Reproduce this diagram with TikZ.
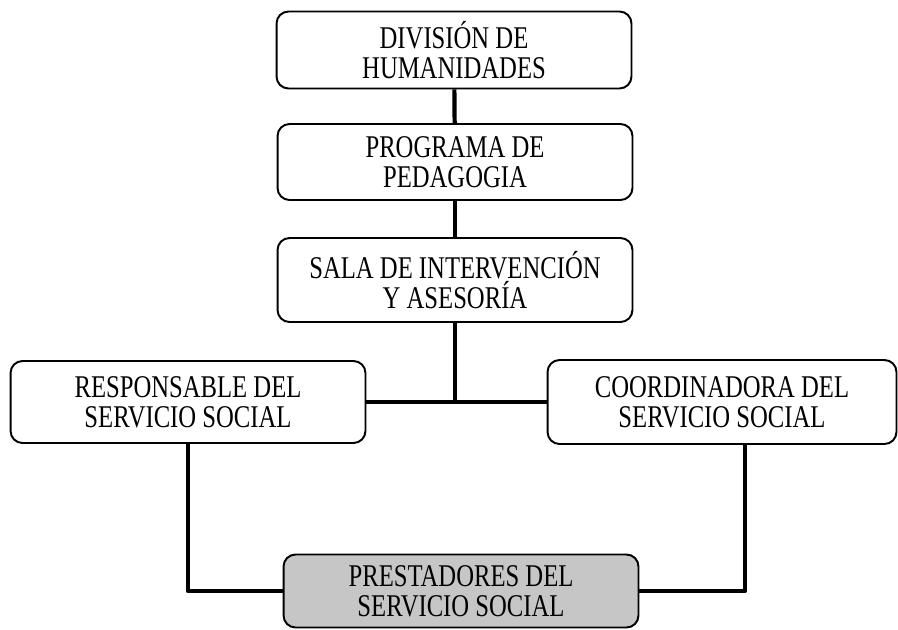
\documentclass[tikz,border=0pt]{standalone}
\usepackage{fontspec}
\setmainfont[FakeStretch=0.78]{Liberation Serif}
\begin{document}
\begin{tikzpicture}[x=0.02cm, y=-0.02cm, line join=round, font=\fontsize{18}{17}\selectfont,
	caja/.style={draw, line width=1.1pt, rounded corners=0.24cm, align=center, inner sep=0pt, minimum width=7.1cm},
	enlace/.style={line width=2.4pt}]
	\useasboundingbox (0,0) rectangle (898,629);
	% cajas
	\node[caja, minimum height=1.54cm] (div) at (454,50) {DIVISIÓN DE\\HUMANIDADES};
	\node[caja, minimum height=1.52cm] (prog) at (455,162) {PROGRAMA DE\\PEDAGOGIA};
	\node[caja, minimum height=1.68cm] (sala) at (455,280) {SALA DE INTERVENCIÓN\\Y ASESORÍA};
	\node[caja, minimum height=1.64cm] (resp) at (188,402) {RESPONSABLE DEL\\SERVICIO SOCIAL};
	\node[caja, minimum height=1.68cm, minimum width=6.98cm] (coord) at (722,402) {COORDINADORA DEL\\SERVICIO SOCIAL};
	\node[caja, minimum height=1.46cm, fill=gray!45] (prest) at (461,591) {PRESTADORES DEL\\SERVICIO SOCIAL};
	% enlaces
	\draw[enlace] (div) -- (prog);
	\draw[enlace] (prog) -- (sala);
	\draw[enlace] (resp) -- (coord);
	\draw[enlace] (sala) -- (sala.south |- resp.east);
	\draw[enlace] (resp.south) |- (prest.west);
	\draw[enlace] ([xshift=0.46cm]coord.south) |- (prest.east);
\end{tikzpicture}
\end{document}
